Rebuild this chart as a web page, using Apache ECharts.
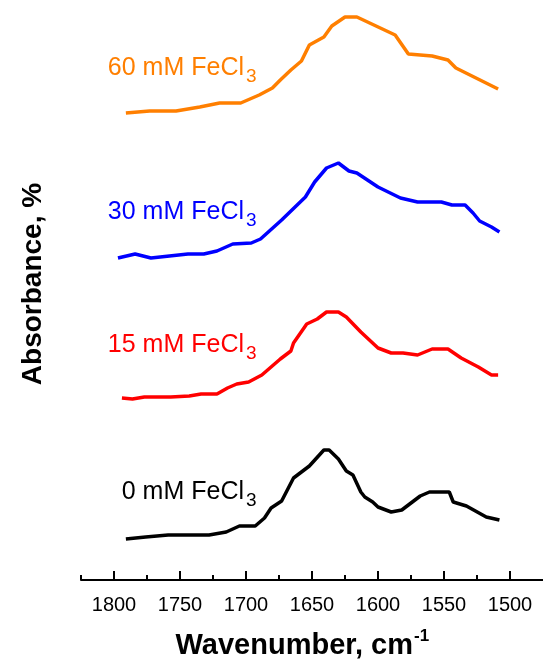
<!DOCTYPE html>
<html>
<head>
<meta charset="utf-8">
<title>FTIR FeCl3</title>
<script src="https://cdn.jsdelivr.net/npm/echarts/dist/echarts.min.js"></script>
<style>
  html, body { margin: 0; padding: 0; background: #fff; }
  #spectraChart { width: 543px; height: 667px; }
</style>
</head>
<body>
<div id="spectraChart"></div>
<script>
// wavenumber (cm-1) / absorbance (stacked, a.u.)
const wn0 = [1791, 1776, 1759, 1728, 1715, 1705, 1693, 1686, 1681, 1673, 1664, 1652, 1641, 1637, 1630, 1624, 1619, 1613, 1610, 1604, 1600, 1590, 1582, 1568, 1561, 1546, 1543, 1533, 1518, 1508]
const ab0 = [0.41, 0.43, 0.45, 0.45, 0.48, 0.54, 0.54, 0.62, 0.72, 0.79, 1.02, 1.14, 1.30, 1.30, 1.21, 1.09, 1.05, 0.88, 0.83, 0.78, 0.73, 0.68, 0.70, 0.84, 0.88, 0.88, 0.78, 0.74, 0.63, 0.60]

const wn15 = [1794, 1786, 1777, 1757, 1743, 1734, 1722, 1714, 1707, 1698, 1688, 1674, 1666, 1664, 1654, 1646, 1639, 1630, 1624, 1613, 1600, 1590, 1581, 1570, 1559, 1547, 1537, 1524, 1514, 1509]
const ab15 = [1.82, 1.81, 1.83, 1.83, 1.84, 1.86, 1.86, 1.92, 1.96, 1.98, 2.05, 2.21, 2.29, 2.37, 2.56, 2.61, 2.68, 2.68, 2.63, 2.48, 2.32, 2.27, 2.27, 2.25, 2.31, 2.31, 2.22, 2.13, 2.05, 2.05]

const wn30 = [1797, 1784, 1772, 1758, 1744, 1732, 1722, 1710, 1696, 1689, 1673, 1655, 1648, 1639, 1630, 1622, 1616, 1600, 1583, 1570, 1552, 1544, 1534, 1528, 1523, 1514, 1508]
const ab30 = [3.22, 3.26, 3.22, 3.24, 3.26, 3.26, 3.29, 3.36, 3.37, 3.41, 3.60, 3.83, 3.98, 4.12, 4.17, 4.09, 4.07, 3.93, 3.82, 3.78, 3.78, 3.75, 3.75, 3.67, 3.59, 3.53, 3.48]

const wn60 = [1791, 1773, 1753, 1735, 1720, 1704, 1690, 1680, 1674, 1666, 1658, 1652, 1641, 1635, 1625, 1616, 1587, 1577, 1559, 1547, 1541, 1509]
const ab60 = [4.67, 4.69, 4.69, 4.73, 4.77, 4.77, 4.85, 4.92, 5.00, 5.10, 5.19, 5.35, 5.43, 5.54, 5.63, 5.63, 5.45, 5.26, 5.24, 5.20, 5.12, 4.91]

const seriesNames = ['0 mM FeCl3', '15 mM FeCl3', '30 mM FeCl3', '60 mM FeCl3']
const majorTicks = [1800, 1750, 1700, 1650, 1600, 1550, 1500]
const minorTicks = [1825, 1775, 1725, 1675, 1625, 1575, 1525]

const zip = (xs, ys) => xs.map((x, i) => [x, ys[i]])

let myChart = echarts.init(document.getElementById('spectraChart'))
const font = 'Arial, "Liberation Sans", sans-serif'

// curve label: "xx mM FeCl" + subscript 3
const curveLabel = (name, color, rightX, midY) => {
  const main = name.slice(0, -1)
  return [
    { type: 'text', style: { text: main, x: rightX, y: midY, fill: color, font: '25px ' + font, textAlign: 'right', textVerticalAlign: 'middle' } },
    { type: 'text', style: { text: '3', x: rightX + 2, y: midY + 9, fill: color, font: '19px ' + font, textAlign: 'left', textVerticalAlign: 'middle' } }
  ]
}

let option = {
  backgroundColor: '#fff',
  animation: false,
  grid: {
    left: 81,
    right: -2,
    top: 0,
    bottom: 87
  },
  xAxis: [
    {
      type: 'value',
      inverse: true,
      min: 1475,
      max: 1825,
      splitLine: { show: false },
      axisLine: { lineStyle: { color: '#000', width: 2 } },
      axisTick: { inside: true, length: 9, lineStyle: { color: '#000', width: 2 }, customValues: majorTicks },
      axisLabel: {
        customValues: majorTicks,
        color: '#000',
        fontSize: 20,
        fontFamily: font,
        margin: 15,
        formatter: (v) => String(v) // no thousands separator
      }
    },
    {
      // short ticks between the labelled ones
      type: 'value',
      inverse: true,
      min: 1475,
      max: 1825,
      position: 'bottom',
      offset: 0,
      splitLine: { show: false },
      axisLine: { show: false },
      axisTick: { inside: true, length: 5, lineStyle: { color: '#000', width: 2 }, customValues: minorTicks },
      axisLabel: { show: false }
    }
  ],
  yAxis: {
    type: 'value',
    min: 0,
    max: 5.8,
    show: false
  },
  graphic: [
    ...curveLabel(seriesNames[3], '#FF7F00', 244, 68),
    ...curveLabel(seriesNames[2], '#0000FF', 244, 212),
    ...curveLabel(seriesNames[1], '#FF0000', 244, 345),
    ...curveLabel(seriesNames[0], '#000000', 244, 492),
    { type: 'text', x: 33, y: 284, rotation: Math.PI / 2,
      style: { text: 'Absorbance, %', x: 0, y: 0, fill: '#000', font: 'bold 28px ' + font, textAlign: 'center', textVerticalAlign: 'middle' } },
    { type: 'text', style: { text: 'Wavenumber, cm', x: 413, y: 646, fill: '#000', font: 'bold 29px ' + font, textAlign: 'right', textVerticalAlign: 'middle' } },
    { type: 'text', style: { text: '-1', x: 414, y: 636, fill: '#000', font: 'bold 17px ' + font, textAlign: 'left', textVerticalAlign: 'middle' } }
  ],
  series: [
    { name: seriesNames[0], type: 'line', showSymbol: false, data: zip(wn0, ab0), lineStyle: { color: '#000000', width: 3.5 } },
    { name: seriesNames[1], type: 'line', showSymbol: false, data: zip(wn15, ab15), lineStyle: { color: '#FF0000', width: 3.5 } },
    { name: seriesNames[2], type: 'line', showSymbol: false, data: zip(wn30, ab30), lineStyle: { color: '#0000FF', width: 3.5 } },
    { name: seriesNames[3], type: 'line', showSymbol: false, data: zip(wn60, ab60), lineStyle: { color: '#FF7F00', width: 3.5 } }
  ]
}
myChart.setOption(option)
</script>
</body>
</html>
